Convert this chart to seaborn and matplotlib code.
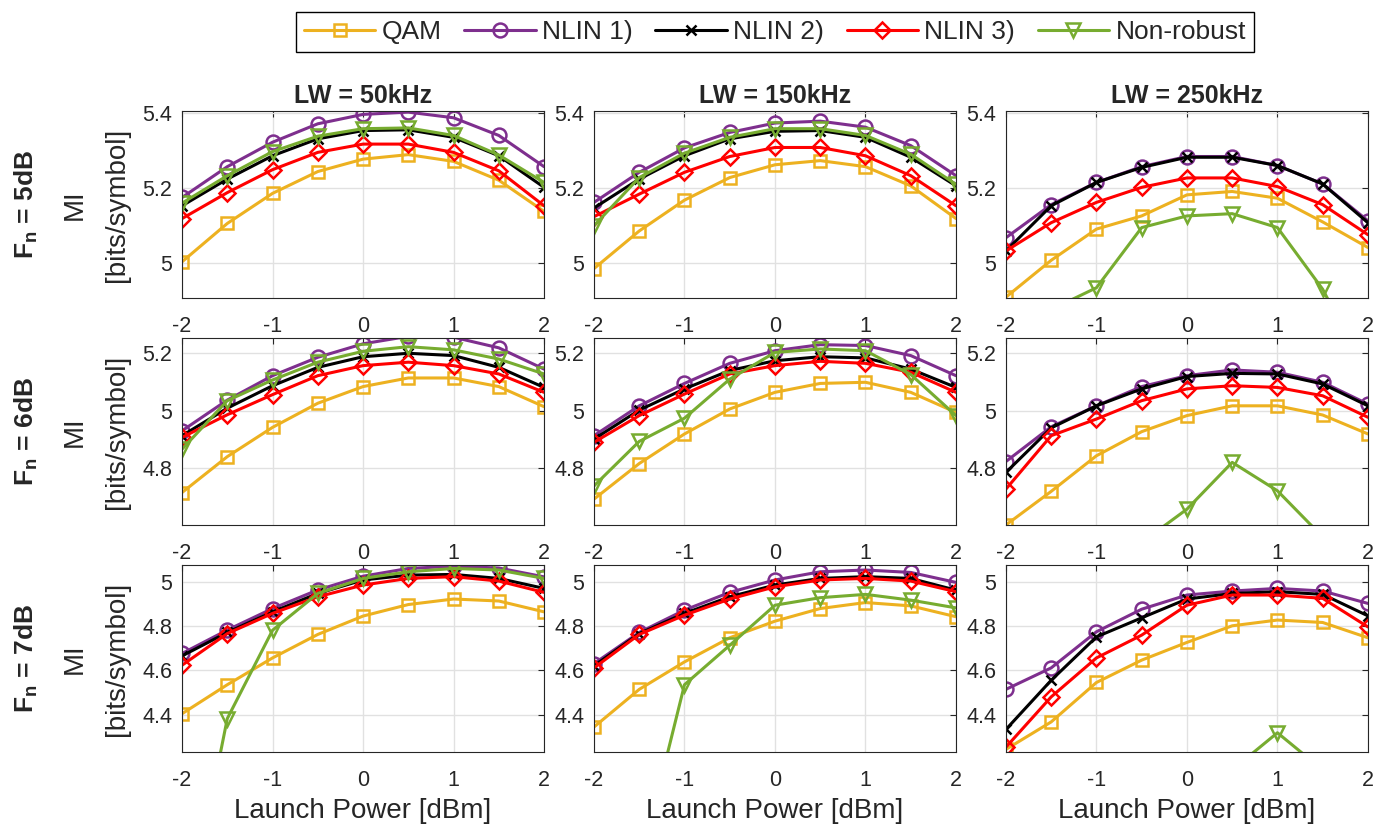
import matplotlib
matplotlib.use('Agg')
import matplotlib.pyplot as plt
from matplotlib.ticker import FuncFormatter
import pandas as pd
import seaborn as sns

# ---------------- data ----------------
launch_power = [-2, -1.5, -1, -0.5, 0, 0.5, 1, 1.5, 2]
lw_titles = ['LW = 50kHz', 'LW = 150kHz', 'LW = 250kHz']
fn_labels = ['5dB', '6dB', '7dB']
series_names = ['QAM', 'NLIN 1)', 'NLIN 2)', 'NLIN 3)', 'Non-robust']

# each list holds [LW=50kHz, LW=150kHz, LW=250kHz]
qam_fn5 = [[5.004, 5.106, 5.186, 5.244, 5.277, 5.289, 5.271, 5.221, 5.138],
           [4.986, 5.086, 5.168, 5.228, 5.262, 5.273, 5.257, 5.206, 5.119],
           [4.910, 5.008, 5.091, 5.126, 5.182, 5.191, 5.173, 5.110, 5.042]]
nlin1_fn5 = [[5.175, 5.257, 5.322, 5.371, 5.396, 5.402, 5.387, 5.340, 5.257],
             [5.162, 5.242, 5.307, 5.348, 5.373, 5.378, 5.362, 5.313, 5.233],
             [5.068, 5.156, 5.215, 5.257, 5.284, 5.284, 5.260, 5.211, 5.113]]
nlin2_fn5 = [[5.153, 5.224, 5.286, 5.331, 5.353, 5.355, 5.335, 5.286, 5.202],
             [5.147, 5.224, 5.286, 5.331, 5.351, 5.353, 5.335, 5.282, 5.206],
             [5.033, 5.153, 5.215, 5.255, 5.282, 5.282, 5.260, 5.211, 5.108]]
nlin3_fn5 = [[5.119, 5.188, 5.249, 5.295, 5.317, 5.317, 5.295, 5.246, 5.153],
             [5.124, 5.184, 5.242, 5.284, 5.308, 5.308, 5.286, 5.233, 5.153],
             [5.033, 5.108, 5.162, 5.202, 5.227, 5.227, 5.204, 5.156, 5.076]]
nonrob_fn5 = [[5.160, 5.233, 5.297, 5.338, 5.358, 5.360, 5.340, 5.288, 5.215],
              [5.100, 5.228, 5.293, 5.335, 5.358, 5.358, 5.340, 5.290, 5.210],
              [4.700, 4.877, 4.935, 5.095, 5.126, 5.132, 5.095, 4.931, 4.700]]

qam_fn6 = [[4.715, 4.840, 4.942, 5.026, 5.084, 5.114, 5.114, 5.084, 5.014],
           [4.692, 4.816, 4.919, 5.006, 5.064, 5.095, 5.099, 5.064, 4.994],
           [4.602, 4.719, 4.843, 4.927, 4.983, 5.017, 5.017, 4.985, 4.919]]
nlin1_fn6 = [[4.930, 5.037, 5.122, 5.186, 5.233, 5.259, 5.256, 5.219, 5.145],
             [4.913, 5.017, 5.095, 5.165, 5.209, 5.230, 5.227, 5.192, 5.122],
             [4.823, 4.944, 5.017, 5.084, 5.122, 5.142, 5.134, 5.099, 5.023]]
nlin2_fn6 = [[4.913, 5.009, 5.087, 5.151, 5.188, 5.200, 5.192, 5.151, 5.081],
             [4.901, 5.002, 5.076, 5.140, 5.174, 5.188, 5.184, 5.145, 5.081],
             [4.785, 4.940, 5.017, 5.076, 5.119, 5.130, 5.128, 5.093, 5.017]]
nlin3_fn6 = [[4.907, 4.986, 5.056, 5.122, 5.157, 5.169, 5.157, 5.128, 5.064],
             [4.890, 4.983, 5.058, 5.128, 5.157, 5.172, 5.165, 5.134, 5.064],
             [4.727, 4.913, 4.971, 5.035, 5.076, 5.087, 5.081, 5.052, 4.977]]
nonrob_fn6 = [[4.866, 5.035, 5.107, 5.169, 5.207, 5.223, 5.212, 5.180, 5.128],
              [4.738, 4.893, 4.974, 5.110, 5.203, 5.215, 5.209, 5.126, 4.983],
              [4.200, 4.350, 4.450, 4.541, 4.657, 4.820, 4.721, 4.560, 4.400]]

qam_fn7 = [[4.404, 4.535, 4.656, 4.762, 4.845, 4.897, 4.922, 4.913, 4.864],
           [4.344, 4.514, 4.638, 4.747, 4.822, 4.879, 4.906, 4.891, 4.842],
           [4.243, 4.367, 4.545, 4.646, 4.726, 4.801, 4.827, 4.816, 4.747]]
nlin1_fn7 = [[4.676, 4.782, 4.879, 4.963, 5.025, 5.060, 5.070, 5.062, 5.022],
             [4.630, 4.771, 4.872, 4.952, 5.008, 5.045, 5.053, 5.042, 4.997],
             [4.514, 4.611, 4.774, 4.876, 4.940, 4.958, 4.970, 4.958, 4.902]]
nlin2_fn7 = [[4.665, 4.771, 4.864, 4.947, 5.008, 5.030, 5.033, 5.015, 4.970],
             [4.620, 4.766, 4.857, 4.932, 4.985, 5.015, 5.023, 5.015, 4.962],
             [4.333, 4.555, 4.751, 4.837, 4.922, 4.947, 4.955, 4.943, 4.846]]
nlin3_fn7 = [[4.623, 4.766, 4.857, 4.932, 4.985, 5.015, 5.023, 5.003, 4.952],
             [4.611, 4.762, 4.849, 4.922, 4.977, 5.008, 5.015, 5.003, 4.955],
             [4.253, 4.480, 4.656, 4.759, 4.894, 4.940, 4.940, 4.925, 4.796]]
nonrob_fn7 = [[3.360, 4.382, 4.781, 4.947, 5.015, 5.045, 5.060, 5.053, 5.015],
              [3.000, 3.710, 4.535, 4.713, 4.894, 4.928, 4.943, 4.917, 4.882],
              [3.600, 3.800, 3.900, 4.000, 4.080, 4.150, 4.318, 4.150, 4.000]]

row_ylims = [(4.908, 5.405), (4.602, 5.253), (4.231, 5.075)]
row_yticks = [[5, 5.2, 5.4], [4.8, 5, 5.2], [4.4, 4.6, 4.8, 5]]

# ---------------- long table ----------------
rows = [
    [qam_fn5, nlin1_fn5, nlin2_fn5, nlin3_fn5, nonrob_fn5],
    [qam_fn6, nlin1_fn6, nlin2_fn6, nlin3_fn6, nonrob_fn6],
    [qam_fn7, nlin1_fn7, nlin2_fn7, nlin3_fn7, nonrob_fn7],
]
records = []
for r, series_set in enumerate(rows):
    for name, values in zip(series_names, series_set):
        for c in range(3):
            for p, v in zip(launch_power, values[c]):
                records.append({'row': r, 'col': c, 'series': name, 'power': p, 'mi': v})
df = pd.DataFrame(records)

# ---------------- style ----------------
sns.set_style('whitegrid', {'grid.color': '#e1e1e1', 'axes.edgecolor': '#262626',
                            'axes.linewidth': 1.0})
plt.rcParams['font.family'] = ['Liberation Sans', 'DejaVu Sans']
plt.rcParams['mathtext.fontset'] = 'custom'
plt.rcParams['mathtext.rm'] = 'Liberation Sans'
plt.rcParams['mathtext.bf'] = 'Liberation Sans:bold'
plt.rcParams['mathtext.it'] = 'Liberation Sans:italic'

colors = {'QAM': '#EDB120', 'NLIN 1)': '#7E2F8E', 'NLIN 2)': '#000000',
          'NLIN 3)': '#FF0000', 'Non-robust': '#77AC30'}
markers = {'QAM': 's', 'NLIN 1)': 'o', 'NLIN 2)': 'x', 'NLIN 3)': 'D', 'Non-robust': 'v'}
msizes = {'QAM': 9, 'NLIN 1)': 10, 'NLIN 2)': 7, 'NLIN 3)': 8.5, 'Non-robust': 10.5}

fig, axes = plt.subplots(3, 3, figsize=(13.95, 8.34), dpi=100)
fig.subplots_adjust(left=0.1305, right=0.9806, top=0.8669, bottom=0.0983,
                    wspace=0.138, hspace=0.215)

fmt = FuncFormatter(lambda v, pos: f'{v:g}')

for r in range(3):
    for c in range(3):
        ax = axes[r, c]
        sub = df[(df['row'] == r) & (df['col'] == c)]
        for name in series_names:
            d = sub[sub['series'] == name]
            sns.lineplot(data=d, x='power', y='mi', ax=ax, color=colors[name],
                         marker=markers[name], markersize=msizes[name],
                         markerfacecolor='none', markeredgecolor=colors[name],
                         markeredgewidth=1.8, linewidth=2.2, label=name,
                         legend=False, errorbar=None)
        ax.set_xlim(-2, 2)
        ax.set_xticks([-2, -1, 0, 1, 2])
        ax.set_ylim(*row_ylims[r])
        ax.set_yticks(row_yticks[r])
        ax.xaxis.set_major_formatter(fmt)
        ax.yaxis.set_major_formatter(fmt)
        ax.tick_params(direction='in', length=4, width=0.8, top=True, right=True,
                       labelsize=15.5, colors='#262626')
        ax.tick_params(axis='x', pad=13)
        ax.tick_params(axis='y', pad=7)
        ax.grid(True, color='#e1e1e1', linewidth=1)
        ax.set_xlabel('')
        ax.set_ylabel('')
        if r == 0:
            ax.set_title(lw_titles[c], fontsize=18, fontweight='bold', pad=6)
        if r == 2:
            ax.set_xlabel('Launch Power [dBm]', fontsize=20, color='#262626', labelpad=5)
        if c == 0:
            ax.set_ylabel('MI\n[bits/symbol]', fontsize=20, color='#262626', linespacing=1.8)
            ax.yaxis.set_label_coords(-0.145, 0.5)
            box = ax.get_position()
            fig.text(26 / 1395, (box.y0 + box.y1) / 2,
                     r'$\mathbf{F_n}$ = ' + fn_labels[r], rotation=90, ha='center',
                     va='center', fontsize=19, fontweight='bold')

handles, labels = axes[0, 0].get_legend_handles_labels()
leg = fig.legend(handles, labels, loc='upper center', bbox_to_anchor=(0.5556, 0.9856),
                 ncol=5, frameon=True, fancybox=False, edgecolor='black', framealpha=1,
                 fontsize=19, handlelength=2.7, handletextpad=0.25, columnspacing=0.85,
                 borderpad=0.3, borderaxespad=0)
leg.get_frame().set_linewidth(1.0)

fig.savefig('out.png', dpi=100)
